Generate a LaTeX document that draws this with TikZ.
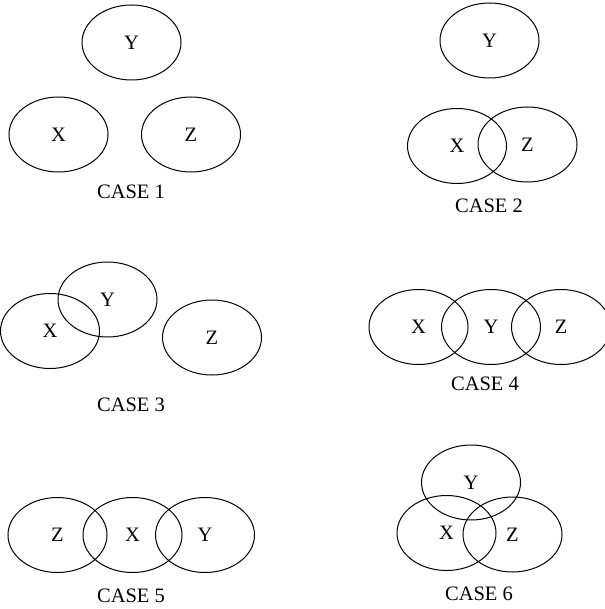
\documentclass[tikz,border=0pt]{standalone}
\usepackage{fontspec}
\setmainfont{Liberation Serif}
\usetikzlibrary{shapes.geometric}
\tikzset{venn/.style={draw, ellipse, line width=1pt, minimum width=99pt, minimum height=75pt, inner sep=0pt, font=\fontsize{20.5}{24}\selectfont},
         caselabel/.style={inner sep=0pt, font=\fontsize{20.5}{24}\selectfont}}
\begin{document}
\begin{tikzpicture}[x=1pt,y=-1pt]
\useasboundingbox (0,0) rectangle (604,609);

% case 1
\node[venn] (y1) at (131.5,42.5) {Y};
\node[venn] (x1) at (58.5,134.5) {X};
\node[venn] (z1) at (191,134.5) {Z};
\node[caselabel] (c1) at (131,192) {CASE 1};

% case 2
\node[venn] (y2) at (489.5,40.5) {Y};
\node[venn] (x2) at (457,146) {X};
\node[venn] (z2) at (527.5,144.5) {Z};
\node[caselabel] (c2) at (489,206) {CASE 2};

% case 3
\node[venn] (y3) at (107.5,299.5) {Y};
\node[venn] (x3) at (50,331) {X};
\node[venn] (z3) at (212,337.5) {Z};
\node[caselabel] (c3) at (131,405) {CASE 3};

% case 4
\node[venn] (x4) at (418.5,327) {X};
\node[venn] (y4) at (491,327) {Y};
\node[venn] (z4) at (561,327) {Z};
\node[caselabel] (c4) at (485,384) {CASE 4};

% case 5
\node[venn] (z5) at (57.5,535) {Z};
\node[venn] (x5) at (132.5,535) {X};
\node[venn] (y5) at (205,535) {Y};
\node[caselabel] (c5) at (131,596) {CASE 5};

% case 6
\node[venn] (y6) at (471,482.5) {Y};
\node[venn] (x6) at (446.5,533) {X};
\node[venn] (z6) at (512.5,534.5) {Z};
\node[caselabel] (c6) at (479,594) {CASE 6};

\end{tikzpicture}
\end{document}
